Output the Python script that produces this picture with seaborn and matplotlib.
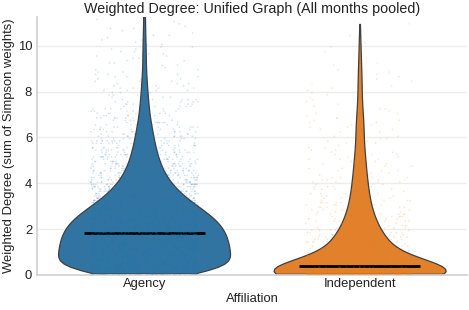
import numpy as np
import pandas as pd
import matplotlib
matplotlib.use("Agg")
import matplotlib.pyplot as plt
import seaborn as sns

# weighted degree values, binned at 0.1 (bin centre -> number of nodes)
groups = ["Agency", "Independent"]

agency_bins = np.round(np.arange(0.05, 14.0, 0.1), 2)
agency_counts = [
    110, 110, 110, 110, 110,
    100, 100, 100, 100, 100, 100, 100, 100, 100, 100,
    96, 96, 96, 96, 96,
    92, 90, 88, 86, 84,
    80, 76, 72, 68, 64,
    60, 56, 52, 48, 45,
    42, 39, 37, 35, 33,
    29, 28, 26, 25, 24,
    21, 20, 20, 19, 19,
    16, 16, 15, 15, 14,
    13, 13, 12, 12, 11,
    11, 10, 10, 9, 9, 8, 8, 7, 7, 6,
    6, 6, 6, 5, 5, 5, 5, 4, 4, 4,
    4, 4, 3, 3, 3, 3, 3, 3, 2, 2,
    2, 2, 2, 2, 2, 2, 2, 2, 2, 2,
    2, 1, 2, 1, 2, 1, 1, 2, 1, 1,
    1, 1, 1, 1, 1, 1, 1, 1, 1, 1,
    1, 0, 1, 0, 1, 0, 1, 0, 0, 1,
    0, 1, 0, 0, 1, 0, 0, 0, 0, 1,
]

indep_bins = np.round(np.arange(0.05, 11.0, 0.1), 2)
indep_counts = [
    285, 149,
    18, 18, 18, 18, 18, 18, 18, 18, 18, 18,
    16, 15, 14, 13, 12, 11, 11, 10, 9, 9,
    8, 8, 7, 7, 7, 6, 6, 6, 5, 5,
    5, 5, 5, 4, 4, 4, 4, 4, 4, 4,
    4, 3, 3, 3, 3, 3, 3, 3, 3, 3,
    3, 2, 2, 2, 2, 2,
    2, 2, 2, 2, 2, 2, 2, 2, 2, 2,
    2, 1, 2, 1, 2, 1, 1, 1, 1, 1,
    1, 1, 1, 1, 1, 1, 1, 1, 1, 1,
    1, 1, 0, 1, 1, 0, 1, 1, 0, 1,
    0, 1, 0, 1, 0, 0, 1, 0, 0, 0, 0, 1,
]

df = pd.concat([
    pd.DataFrame({"Affiliation": "Agency",
                  "deg": np.repeat(agency_bins, agency_counts)}),
    pd.DataFrame({"Affiliation": "Independent",
                  "deg": np.repeat(indep_bins, indep_counts)}),
], ignore_index=True)

sns.set_theme(style="whitegrid", rc={"grid.color": "#ececec", "axes.edgecolor": "#d2d2d2",
                                     "text.color": "#222222", "axes.labelcolor": "#222222",
                                     "xtick.color": "#222222", "ytick.color": "#222222"})
plt.rcParams['font.family'] = ['Liberation Sans', 'DejaVu Sans']
np.random.seed(0)

colors = ["#1f77b4", "#ff7f0e"]
fig, ax = plt.subplots(figsize=(4.69, 3.10), dpi=100)

sns.violinplot(data=df, x="Affiliation", y="deg", hue="Affiliation", order=groups,
               palette=colors, cut=0, inner=None, density_norm="width",
               linewidth=0.9, linecolor="0.25", legend=False, ax=ax)

# median lines
for i, g in enumerate(groups):
    med = df.loc[df.Affiliation == g, "deg"].median()
    ax.hlines(med, i - 0.28, i + 0.28, color="black", lw=2, zorder=3)

sns.stripplot(data=df, x="Affiliation", y="deg", hue="Affiliation", order=groups,
              palette=colors, size=1.2, alpha=0.2, jitter=0.25, linewidth=0,
              legend=False, zorder=4, ax=ax)

ax.set_ylim(0, 11.25)
ax.set_yticks([0, 2, 4, 6, 8, 10])
ax.set_title("Weighted Degree: Unified Graph (All months pooled)", fontsize=10.3, pad=3)
ax.set_xlabel("Affiliation", fontsize=9.4, labelpad=2)
ax.set_ylabel("Weighted Degree (sum of Simpson weights)", fontsize=9.4, labelpad=2)
ax.tick_params(axis="x", labelsize=9.4, length=0, pad=2.5)
ax.tick_params(axis="y", labelsize=9.4, length=0, pad=3.5)
sns.despine(ax=ax)

plt.subplots_adjust(left=0.079, right=0.996, top=0.945, bottom=0.113)
plt.savefig("out.png", dpi=100)
